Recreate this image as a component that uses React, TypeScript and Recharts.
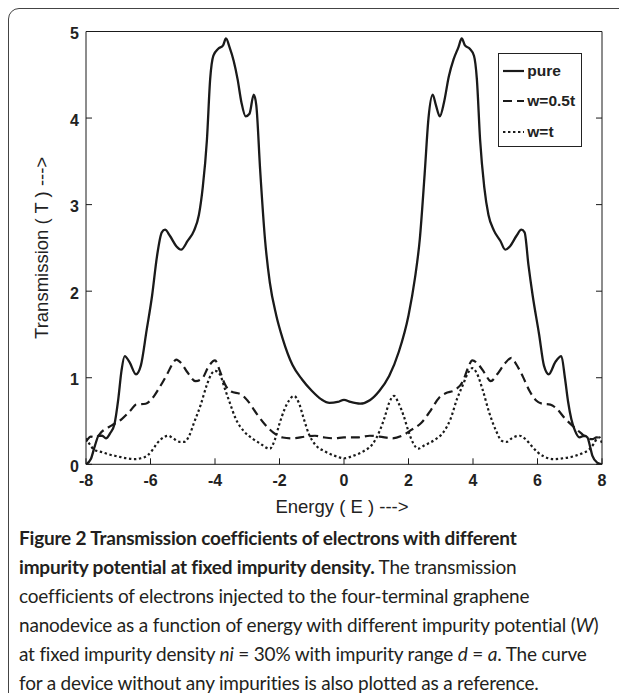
import React from "react";
import { LineChart, Line, XAxis, YAxis, Legend } from "recharts";

// Energy / transmission samples
const pureE = [-8, -7.85, -7.72, -7.6, -7.5, -7.38, -7.25, -7.12, -7.0, -6.9, -6.8, -6.65, -6.45, -6.3, -6.12, -5.95, -5.8, -5.65, -5.55, -5.4, -5.2, -5.05, -4.85, -4.65, -4.5, -4.38, -4.25, -4.15, -4.05, -3.9, -3.75, -3.66, -3.55, -3.42, -3.3, -3.18, -3.05, -2.93, -2.8, -2.72, -2.6, -2.45, -2.3, -2.1, -1.9, -1.6, -1.3, -1.0, -0.7, -0.45, -0.2, 0, 0.2, 0.5, 0.8, 1.1, 1.4, 1.7, 2.0, 2.2, 2.35, 2.5, 2.62, 2.75, 2.85, 2.97, 3.1, 3.25, 3.4, 3.55, 3.65, 3.75, 3.9, 4.03, 4.12, 4.22, 4.35, 4.48, 4.65, 4.85, 5.0, 5.15, 5.35, 5.5, 5.6, 5.72, 5.85, 6.05, 6.2, 6.35, 6.55, 6.74, 6.85, 6.95, 7.05, 7.15, 7.3, 7.45, 7.55, 7.62, 7.7, 7.85, 8];
const pureT = [0.0, 0.06, 0.22, 0.33, 0.33, 0.30, 0.36, 0.46, 0.75, 1.08, 1.25, 1.18, 1.04, 1.14, 1.55, 1.95, 2.40, 2.68, 2.71, 2.64, 2.52, 2.48, 2.58, 2.70, 2.88, 3.2, 3.75, 4.45, 4.72, 4.80, 4.84, 4.92, 4.82, 4.66, 4.45, 4.18, 4.02, 4.05, 4.27, 4.15, 3.4, 2.6, 2.1, 1.72, 1.45, 1.15, 0.98, 0.85, 0.75, 0.71, 0.72, 0.745, 0.72, 0.70, 0.74, 0.85, 1.02, 1.30, 1.72, 2.15, 2.6, 3.35, 4.0, 4.27, 4.15, 4.02, 4.18, 4.48, 4.68, 4.82, 4.92, 4.84, 4.80, 4.72, 4.45, 3.75, 3.2, 2.88, 2.70, 2.58, 2.48, 2.52, 2.64, 2.71, 2.68, 2.30, 1.95, 1.5, 1.14, 1.04, 1.18, 1.25, 1.0, 0.72, 0.52, 0.40, 0.31, 0.33, 0.31, 0.22, 0.10, 0.02, 0.0];

const halfE = [-8, -7.85, -7.7, -7.5, -7.2, -6.9, -6.6, -6.45, -6.15, -5.95, -5.75, -5.5, -5.3, -5.2, -5.05, -4.85, -4.6, -4.4, -4.2, -4.0, -3.85, -3.7, -3.5, -3.2, -3.0, -2.7, -2.45, -2.2, -1.9, -1.6, -1.2, -0.9, -0.6, -0.3, 0, 0.4, 0.8, 1.1, 1.5, 1.8, 2.1, 2.4, 2.7, 2.95, 3.15, 3.45, 3.7, 3.85, 3.98, 4.15, 4.35, 4.55, 4.75, 5.0, 5.19, 5.35, 5.55, 5.75, 5.95, 6.15, 6.4, 6.6, 6.85, 7.1, 7.35, 7.55, 7.7, 7.83, 7.92, 8];
const halfT = [0.26, 0.32, 0.31, 0.38, 0.45, 0.52, 0.63, 0.69, 0.70, 0.76, 0.87, 1.03, 1.17, 1.21, 1.17, 1.06, 0.96, 0.99, 1.13, 1.20, 1.08, 0.93, 0.84, 0.81, 0.74, 0.58, 0.46, 0.37, 0.31, 0.30, 0.32, 0.33, 0.31, 0.30, 0.31, 0.31, 0.33, 0.32, 0.30, 0.33, 0.40, 0.48, 0.63, 0.77, 0.82, 0.86, 0.97, 1.12, 1.2, 1.16, 1.06, 0.96, 1.04, 1.17, 1.23, 1.15, 1.01, 0.85, 0.74, 0.70, 0.69, 0.64, 0.53, 0.44, 0.36, 0.30, 0.29, 0.31, 0.30, 0.26];

const fullE = [-8, -7.9, -7.75, -7.5, -7.25, -7.0, -6.75, -6.5, -6.3, -6.1, -5.95, -5.8, -5.6, -5.45, -5.3, -5.1, -4.95, -4.8, -4.65, -4.45, -4.25, -4.1, -4.0, -3.85, -3.7, -3.55, -3.35, -3.1, -2.85, -2.6, -2.4, -2.3, -2.15, -2.0, -1.85, -1.7, -1.55, -1.4, -1.25, -1.1, -0.9, -0.6, -0.3, 0, 0.3, 0.6, 0.9, 1.1, 1.25, 1.4, 1.55, 1.7, 1.85, 2.0, 2.15, 2.3, 2.5, 2.8, 3.1, 3.3, 3.5, 3.7, 3.85, 3.98, 4.12, 4.3, 4.5, 4.7, 4.9, 5.05, 5.2, 5.45, 5.6, 5.8, 6.0, 6.2, 6.5, 6.8, 7.1, 7.4, 7.6, 7.75, 7.85, 7.92, 8];
const fullT = [0.30, 0.24, 0.17, 0.14, 0.11, 0.09, 0.07, 0.06, 0.07, 0.10, 0.16, 0.24, 0.31, 0.33, 0.30, 0.26, 0.26, 0.33, 0.48, 0.68, 0.92, 1.05, 1.08, 1.04, 0.88, 0.72, 0.52, 0.38, 0.30, 0.24, 0.19, 0.18, 0.28, 0.47, 0.63, 0.74, 0.79, 0.71, 0.53, 0.36, 0.23, 0.15, 0.10, 0.07, 0.10, 0.15, 0.24, 0.38, 0.53, 0.71, 0.79, 0.70, 0.56, 0.38, 0.24, 0.18, 0.22, 0.28, 0.38, 0.52, 0.75, 0.93, 1.06, 1.11, 1.05, 0.86, 0.60, 0.40, 0.27, 0.26, 0.30, 0.33, 0.30, 0.22, 0.14, 0.09, 0.06, 0.07, 0.09, 0.13, 0.17, 0.24, 0.30, 0.31, 0.24];

const xTicks = [-8, -6, -4, -2, 0, 2, 4, 6, 8];
const yTicks = [0, 1, 2, 3, 4, 5];
const seriesNames = ["pure", "w=0.5t", "w=t"];
const seriesDashes = ["0", "9 5", "2.4 2.6"];

const toRows = (es: number[], ts: number[]) => es.map((e, i) => ({ x: e, y: ts[i] }));
const seriesData = [toRows(pureE, pureT), toRows(halfE, halfT), toRows(fullE, fullT)];

const INK = "#1a1a1a";
const tickFont = { fontFamily: "'Liberation Sans', Arial, sans-serif", fontSize: 16, fontWeight: 700, fill: "#222" };
const noTick = () => <g />;

const LegendBox = () => (
  <div
    style={{
      border: "1.5px solid #222",
      width: 84,
      height: 94,
      boxSizing: "border-box",
      background: "#fff",
      fontFamily: "'Liberation Sans', Arial, sans-serif",
      fontWeight: 700,
      fontSize: 15.5,
      color: "#222",
      paddingTop: 2,
    }}
  >
    {seriesNames.map((n, i) => (
      <div key={n} style={{ display: "flex", alignItems: "center", height: 30.5 }}>
        <svg width={25} height={10} style={{ marginLeft: 3 }}>
          <line x1={1} y1={5} x2={22} y2={5} stroke={INK} strokeWidth={2.2} strokeDasharray={seriesDashes[i]} />
        </svg>
        <span style={{ marginLeft: 0 }}>{n}</span>
      </div>
    ))}
  </div>
);

const YTitle = (props: any) => {
  const vb = props.viewBox;
  const cx = vb.x + 16;
  const cy = vb.y + vb.height / 2;
  return (
    <text x={cx} y={cy} transform={`rotate(-90 ${cx} ${cy})`} textAnchor="middle" dominantBaseline="central"
      style={{ fontFamily: "'Liberation Sans', Arial, sans-serif", fontSize: 18.5, fill: "#222" }}>
      Transmission ( T ) ---&gt;
    </text>
  );
};

const XTitle = (props: any) => {
  const vb = props.viewBox;
  return (
    <text x={vb.x + vb.width / 2 - 2} y={vb.y + 49} textAnchor="middle"
      style={{ fontFamily: "'Liberation Sans', Arial, sans-serif", fontSize: 18.5, fill: "#222" }}>
      Energy ( E ) ---&gt;
    </text>
  );
};

export default function App() {
  return (
    <div style={{ position: "relative", width: 611, height: 685 }}>
      <div
        style={{
          position: "absolute",
          left: 0,
          top: 0,
          width: 625,
          height: 700,
          boxSizing: "border-box",
          border: "1.5px solid #444",
          borderRadius: 11,
        }}
      />
      <div style={{ position: "absolute", left: 0, top: 0 }}>
        <LineChart width={600} height={510} margin={{ top: 22.5, right: 5, left: 18, bottom: 23.7 }}>
          <XAxis
            dataKey="x"
            type="number"
            domain={[-8, 8]}
            ticks={xTicks}
            height={30}
            allowDataOverflow
            stroke={INK}
            tickSize={-6}
            tickMargin={16}
            tick={tickFont}
            label={<XTitle />}
          />
          <XAxis
            xAxisId="top"
            orientation="top"
            type="number"
            domain={[-8, 8]}
            ticks={xTicks}
            height={1}
            allowDataOverflow
            stroke={INK}
            tickSize={-6}
            tick={noTick}
          />
          <YAxis
            type="number"
            domain={[0, 5]}
            ticks={yTicks}
            width={60}
            allowDataOverflow
            stroke={INK}
            tickSize={-6}
            tickMargin={13}
            tick={{ ...tickFont, dy: 2 }}
            label={<YTitle />}
          />
          <YAxis
            yAxisId="right"
            orientation="right"
            type="number"
            domain={[0, 5]}
            ticks={yTicks}
            width={1}
            allowDataOverflow
            stroke={INK}
            tickSize={-6}
            tick={noTick}
          />
          <Legend
            layout="vertical"
            align="center"
            verticalAlign="middle"
            content={<LegendBox />}
            wrapperStyle={{ position: "absolute", left: 490.3, top: 44.7, width: 84, height: 94 }}
          />
          {seriesData.map((d, i) => (
            <Line
              key={seriesNames[i]}
              data={d}
              dataKey="y"
              name={seriesNames[i]}
              type="monotone"
              stroke={INK}
              strokeWidth={i === 0 ? 2.3 : 2.2}
              strokeDasharray={seriesDashes[i]}
              dot={false}
              activeDot={false}
              isAnimationActive={false}
            />
          ))}
        </LineChart>
      </div>
      <div
        style={{
          position: "absolute",
          left: 11,
          top: 515,
          fontFamily: "Lato, 'Open Sans', sans-serif",
          fontSize: 19,
          letterSpacing: -0.2,
          lineHeight: "29px",
          color: "#231f20",
          whiteSpace: "nowrap",
        }}
      >
        <div><b>Figure 2 Transmission coefficients of electrons with different</b></div>
        <div><b>impurity potential at fixed impurity density.</b> The transmission</div>
        <div>coefficients of electrons injected to the four-terminal graphene</div>
        <div>nanodevice as a function of energy with different impurity potential (<i>W</i>)</div>
        <div>at fixed impurity density <i>ni</i> = 30% with impurity range <i>d</i> = <i>a</i>. The curve</div>
        <div>for a device without any impurities is also plotted as a reference.</div>
      </div>
    </div>
  );
}
